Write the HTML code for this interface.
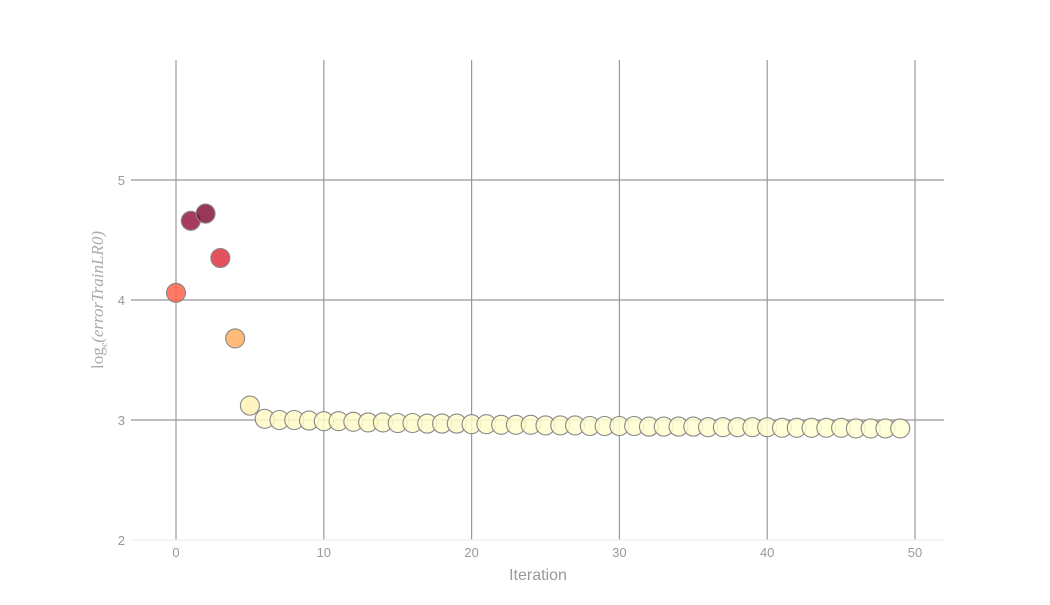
<!DOCTYPE html>
<html><head><meta charset="utf-8"><style>
body{margin:0;background:#fff;width:1050px;height:600px;overflow:hidden;font-family:"Liberation Sans",sans-serif}
</style></head><body>
<svg id="chart" width="1050" height="600" xmlns="http://www.w3.org/2000/svg"></svg>
<script>
const iterations = [];
for (let i = 0; i < 50; i++) iterations.push(i);
const errorValues = [4.06,4.66,4.72,4.35,3.68,3.12,3.01,3.00,3.00,2.995,2.99,2.99,2.985,2.98,2.98,2.975,2.975,2.97,2.97,2.97,2.965,2.965,2.96,2.96,2.96,2.955,2.955,2.955,2.95,2.95,2.95,2.95,2.945,2.945,2.945,2.945,2.94,2.94,2.94,2.94,2.94,2.935,2.935,2.935,2.935,2.935,2.93,2.93,2.93,2.93];
const xTicks = [0,10,20,30,40,50];
const yTicks = [2,3,4,5];
const svg = document.getElementById('chart');
const NS = 'http://www.w3.org/2000/svg';
const X0=131, X1=944, Y0=60, Y1=540;
const xs = v => 176 + (v-0)*(915-176)/50;
const ys = v => 540 - (v-2)*120;
function mk(tag, attrs, parent){const e=document.createElementNS(NS,tag);for(const k in attrs)e.setAttribute(k,attrs[k]);(parent||svg).appendChild(e);return e;}
xTicks.forEach(t=>{
  const l=mk('line',{x1:xs(t),x2:xs(t),y1:Y0,y2:Y1,stroke:'#999','stroke-width':1.2});
  
  
  const tx=mk('text',{x:xs(t),y:557,'text-anchor':'middle','font-size':13,fill:'#999'});
  tx.textContent=t;
  
  
});
yTicks.forEach(t=>{
  const l=mk('line',{x1:X0,x2:X1,y1:ys(t),y2:ys(t),stroke:t===2?'#eee':'#999','stroke-width':1.2});
  
  
  const tx=mk('text',{x:125,y:ys(t)+5,'text-anchor':'end','font-size':13,fill:'#999'});
  tx.textContent=t;
  
  
});
const xl=mk('text',{x:538,y:580,'text-anchor':'middle','font-size':16,fill:'#999'});
xl.textContent='Iteration';


const yl=mk('text',{x:0,y:0,'text-anchor':'middle','font-size':17,fill:'#aaa','font-family':'Liberation Serif,serif','font-style':'italic',transform:'translate(103,300) rotate(-90)'});
yl.innerHTML='<tspan font-style="normal">log</tspan><tspan font-size="10" dy="4">e</tspan><tspan dy="-4">(errorTrainLR0)</tspan>';


const stops=[[2.93,[255,255,210]],[3.12,[255,242,180]],[3.68,[254,176,96]],[4.06,[255,100,75]],[4.35,[222,50,65]],[4.66,[150,25,65]],[4.72,[135,20,60]]];
function color(v){
  if(v<=stops[0][0])return stops[0][1];
  for(let i=1;i<stops.length;i++){if(v<=stops[i][0]){const a=stops[i-1],b=stops[i],f=(v-a[0])/(b[0]-a[0]);return a[1].map((c,k)=>Math.round(c+(b[1][k]-c)*f));}}
  return stops[stops.length-1][1];
}
iterations.forEach((it,i)=>{
  const c=color(errorValues[i]);
  const p=mk('circle',{cx:xs(it),cy:ys(errorValues[i]),r:9.5,fill:`rgba(${c[0]},${c[1]},${c[2]},0.85)`,stroke:'#888','stroke-width':1.1});
  
  
});
</script>
</body></html>
